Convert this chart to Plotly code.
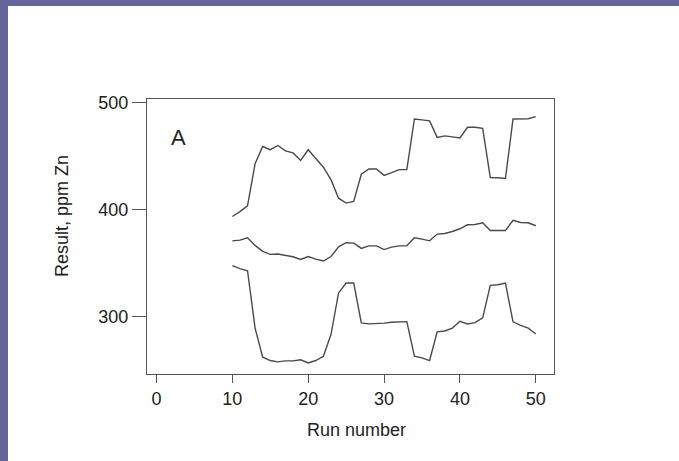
import plotly.graph_objects as go

run = list(range(10, 51))
upper = [393.5, 398, 403.5, 443, 459, 456, 460, 455, 453, 446, 456, 448, 439.6, 428, 410.6, 406, 407.5, 433, 438, 438,
         432, 434.6, 437.4, 437.4, 484.8, 484, 483, 467.6, 469, 468, 467, 477, 477, 476, 430, 429.7, 429, 484.8, 484.8, 485, 487]
middle = [370.7, 371.4, 373.5, 366.4, 360.8, 358, 358.3, 357, 355.8, 353.3, 356, 353.6, 351.8, 356, 365, 368.9, 368.6, 363.6, 366, 366,
          362.5, 364.8, 366, 366, 373.5, 372.3, 370.7, 377, 377.6, 379.4, 382, 385.7, 386, 387.6, 380.4, 380.4, 380.4, 390, 387.9, 387.6, 384.8]
lower = [347.4, 344.6, 342.7, 289, 261.7, 258.6, 257.4, 258.3, 258.3, 259.3, 256.4, 258.6, 262.6, 282.9, 321.9, 331.2, 331.2, 293.8, 292.9, 293,
         293.6, 294.4, 295, 295, 262.6, 261.1, 258.6, 285.4, 286.3, 289, 295.3, 292.9, 294.1, 298.5, 329, 329.6, 331.2, 294.8, 291.6, 289, 283.5]

x_ticks = [0, 10, 20, 30, 40, 50]
y_ticks = [300, 400, 500]

W, H = 679, 461
ML, MR, MT, MB = 147, 125, 99, 87
PW, PH = W - ML - MR, H - MT - MB

def px_to_paper_x(px):
    return (px - ML) / PW

def py_to_paper_y(py):
    return (H - MB - py) / PH

fig = go.Figure()
for ys in (upper, middle, lower):
    fig.add_trace(go.Scatter(x=run, y=ys, mode="lines",
                             line=dict(color="#4a4a4a", width=1.4),
                             showlegend=False, hoverinfo="skip"))

font = dict(family="Liberation Sans, Arial, sans-serif", size=18, color="#222222")

fig.update_layout(
    width=W, height=H,
    margin=dict(l=ML, r=MR, t=MT, b=MB),
    paper_bgcolor="#65659a",
    plot_bgcolor="white",
    font=font,
    shapes=[dict(type="rect", xref="paper", yref="paper", layer="below",
                 x0=px_to_paper_x(8), x1=px_to_paper_x(W + 10),
                 y0=py_to_paper_y(H + 10), y1=py_to_paper_y(6),
                 fillcolor="white", line=dict(width=0))],
    annotations=[
        dict(text="A", x=2.9, y=467, xref="x", yref="y", showarrow=False,
             xanchor="center", yanchor="middle",
             font=dict(family="Liberation Sans, Arial, sans-serif", size=22, color="#222222")),
        dict(text="Result, ppm Zn", textangle=-90, x=px_to_paper_x(62), y=py_to_paper_y(216),
             xref="paper", yref="paper", showarrow=False, xanchor="center", yanchor="middle", font=font),
        dict(text="Run number", x=px_to_paper_x(356), y=py_to_paper_y(430),
             xref="paper", yref="paper", showarrow=False, xanchor="center", yanchor="middle", font=font),
    ],
)
fig.update_xaxes(range=[-1.25, 52.4], tickvals=x_ticks, ticktext=[str(v) for v in x_ticks],
                 showgrid=False, zeroline=False, showline=True, linecolor="#555555", linewidth=1,
                 mirror=True, ticks="outside", ticklen=8, tickcolor="#555555", tickfont=font)
fig.update_yaxes(range=[246, 503.5], tickvals=y_ticks, ticktext=[str(v) for v in y_ticks],
                 showgrid=False, zeroline=False, showline=True, linecolor="#555555", linewidth=1,
                 mirror=True, ticks="outside", ticklen=14, tickcolor="#555555", tickfont=font)

fig.write_html("out.html", config={"displayModeBar": False},
               post_script="document.body.style.margin='0';document.body.style.overflow='hidden';")
